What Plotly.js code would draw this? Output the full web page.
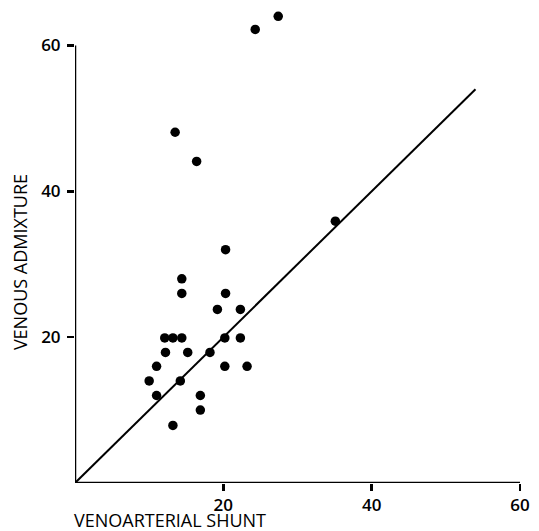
<!DOCTYPE html>
<html>
<head>
<meta charset="utf-8">
<script src="https://cdn.plot.ly/plotly-3.0.1.min.js"></script>
<style>html,body{margin:0;padding:0;background:#fff;}#chart{width:539px;height:531px;}</style>
</head>
<body>
<div id="chart"></div>
<script>
// Venoarterial shunt (x) vs venous admixture (y)
var shunt = [24.3, 27.4, 13.5, 16.4, 35.1, 20.3, 14.4, 14.4, 20.3, 19.2, 22.3,
             12.1, 13.2, 14.4, 20.2, 22.3, 12.2, 15.2, 18.2, 11.0, 20.2, 23.2,
             10.0, 14.2, 11.0, 16.9, 16.9, 13.2];
var admixture = [62.2, 64.0, 48.1, 44.1, 35.9, 32.0, 28.0, 26.0, 26.0, 23.8, 23.8,
                 19.9, 19.9, 19.9, 19.9, 19.9, 17.9, 17.9, 17.9, 16.0, 16.0, 16.0,
                 14.0, 14.0, 12.0, 12.0, 10.0, 7.9];
// line of identity
var identityX = [0, 54];
var identityY = [0, 54];
var xTicks = [20, 40, 60];
var yTicks = [20, 40, 60];
var xTitle = 'VENOARTERIAL SHUNT';
var yTitle = 'VENOUS ADMIXTURE';

var font = '"Open Sans", Lato, sans-serif';

var traces = [
  {x: identityX, y: identityY, mode: 'lines', type: 'scatter',
   line: {color: '#000', width: 2}, hoverinfo: 'skip'},
  {x: shunt, y: admixture, mode: 'markers', type: 'scatter',
   marker: {color: '#000', size: 9.5}}
];

var layout = {
  width: 539, height: 531,
  margin: {l: 75, r: 19, t: 8.5, b: 48},
  paper_bgcolor: '#fff', plot_bgcolor: '#fff',
  showlegend: false,
  font: {family: font, color: '#000', size: 17},
  xaxis: {range: [0, 60], tickvals: xTicks, ticktext: xTicks.map(String),
          ticks: 'outside', ticklen: 7, tickwidth: 2.5, tickcolor: '#000',
          showgrid: false, zeroline: false, showline: false,
          ticklabelstandoff: 0,
          tickfont: {family: font, size: 17, color: '#000', weight: 600}},
  yaxis: {range: [0, 65], tickvals: yTicks, ticktext: yTicks.map(String),
          ticks: 'outside', ticklen: 7, tickwidth: 2.5, tickcolor: '#000',
          showgrid: false, zeroline: false, showline: false,
          ticklabelstandoff: 3,
          tickfont: {family: font, size: 17, color: '#000', weight: 600}},
  shapes: [
    {type: 'line', xref: 'x', yref: 'y', x0: 0, y0: 0, x1: 60, y1: 0,
     line: {color: '#000', width: 2.5}},
    {type: 'line', xref: 'x', yref: 'y', x0: 0, y0: 0, x1: 0, y1: 60,
     line: {color: '#000', width: 2.5}}
  ],
  annotations: [
    {text: xTitle, xref: 'paper', yref: 'paper', x: -0.006, y: -0.0784,
     xanchor: 'left', yanchor: 'middle', showarrow: false,
     font: {family: font, size: 18, color: '#000'}},
    {text: yTitle, xref: 'paper', yref: 'paper', x: -0.1236, y: 0.466,
     xanchor: 'center', yanchor: 'middle', textangle: -90, showarrow: false,
     font: {family: font, size: 18, color: '#000'}}
  ]
};

Plotly.newPlot('chart', traces, layout, {displayModeBar: false, staticPlot: true});
</script>
</body>
</html>
